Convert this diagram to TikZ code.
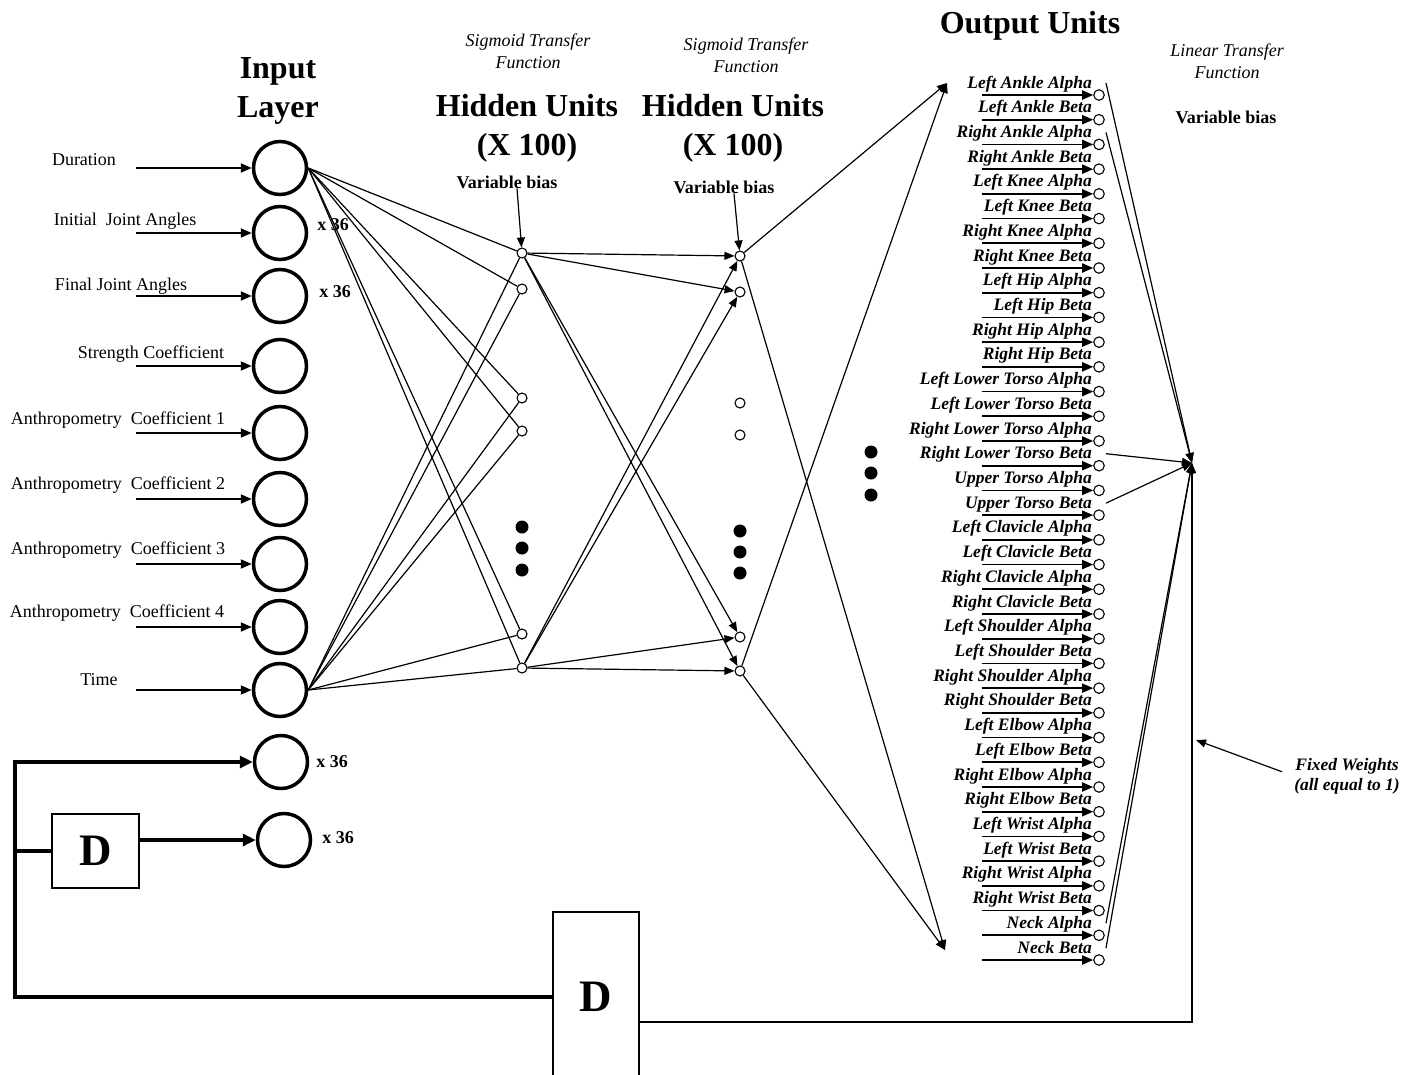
\documentclass[tikz,border=0pt]{standalone}
\usepackage{fontspec}
\setmainfont{Liberation Serif}
\usetikzlibrary{arrows.meta,calc}

\begin{document}
\begin{tikzpicture}[x=1pt,y=-1pt,
  >={Triangle[length=10pt,width=8pt]},
  inunit/.style={circle,draw,line width=3.5pt,minimum size=53pt,inner sep=0pt},
  hunit/.style={circle,draw,fill=white,line width=1.1pt,minimum size=10pt,inner sep=0pt},
  ounit/.style={circle,draw,fill=white,line width=1.1pt,minimum size=10.5pt,inner sep=0pt},
  bigdot/.style={circle,fill,minimum size=13pt,inner sep=0pt},
  link/.style={line width=1.2pt},
  inarrow/.style={line width=1.8pt,-{Triangle[length=11pt,width=9pt]}},
  outarrow/.style={line width=1.8pt,-{Triangle[length=11pt,width=9pt]}},
  fbline/.style={line width=4pt,-{Triangle[length=13pt,width=12pt]}},
  dbox/.style={draw,line width=1.3pt,inner sep=0pt,font=\fontsize{45}{50}\selectfont\bfseries},
  head/.style={font=\fontsize{32}{38.5}\selectfont\bfseries,align=center,inner sep=0pt},
  note/.style={font=\fontsize{18}{22}\selectfont\itshape,align=center,inner sep=0pt},
  bias/.style={font=\fontsize{18}{21}\selectfont\bfseries,inner sep=0pt},
  lbl/.style={font=\fontsize{18}{21}\selectfont,inner sep=0pt},
  mult/.style={font=\fontsize{18}{21}\selectfont\bfseries,inner sep=0pt},
  olbl/.style={font=\fontsize{17.5}{20}\selectfont\bfseries\itshape,inner sep=0pt},
  fixed/.style={font=\fontsize{17.5}{20}\selectfont\bfseries\itshape,align=center,inner sep=0pt}
]
\useasboundingbox (0,0) rectangle (1402,1074);
\clip (0,0) rectangle (1402,1074);

% ---- titles (base anchor = baseline of the last line) ----
\node[head,anchor=base] (hin)  at (278,117)  {Input\\Layer};
\node[head,anchor=base] (hh1)  at (527,155)  {Hidden Units\\(X 100)};
\node[head,anchor=base] (hh2)  at (733,155)  {Hidden Units\\(X 100)};
\node[head,anchor=base] (hout) at (1030,33)  {Output Units};
\node[note,anchor=base] (sig1) at (528,68)   {Sigmoid Transfer\\Function};
\node[note,anchor=base] (sig2) at (746,72)   {Sigmoid Transfer\\Function};
\node[note,anchor=base] (lin)  at (1227,78)  {Linear Transfer\\Function};
\node[bias,anchor=base] (vb3)  at (1226,123) {Variable bias};
\node[bias,anchor=base] (vb1)  at (507,188)  {Variable bias};
\node[bias,anchor=base] (vb2)  at (724,193)  {Variable bias};

% ---- input layer ----
\foreach \n/\y in {1/168,2/233,3/296,4/366,5/433,6/499,7/564,8/627,9/690} {
  \node[inunit] (in\n) at (280,\y) {};
  \coordinate (src\n) at (136,\y);
  \draw[inarrow] (src\n) -- (in\n);
}
\foreach \t/\x/\y in {Duration/84/165, Initial\ \ Joint Angles/125/225,
    Final Joint Angles/121/290, Strength Coefficient/151/358,
    Anthropometry\ \ Coefficient 1/118/424, Anthropometry\ \ Coefficient 2/118/489,
    Anthropometry\ \ Coefficient 3/118/554, Anthropometry\ \ Coefficient 4/117/617,
    Time/99/685}
  \node[lbl,anchor=base] at (\x,\y) {\t};

\node[inunit] (fb1) at (281,762) {};
\node[inunit] (fb2) at (284,840) {};

% ---- hidden layers ----
\foreach \n/\y in {a/253,b/289,c/398,d/431,e/634,f/668}
  \node[hunit] (h1\n) at (522,\y) {};
\foreach \n/\y in {a/256,b/292,c/403,d/435,e/637,f/671}
  \node[hunit] (h2\n) at (740,\y) {};
\foreach \y [count=\k] in {527,548,570} \node[bigdot] (d1\k) at (522,\y) {};
\foreach \y [count=\k] in {531,552,573} \node[bigdot] (d2\k) at (740,\y) {};
\foreach \y [count=\k] in {452,473,495} \node[bigdot] (d3\k) at (871,\y) {};

\foreach \h in {a,b,c,d,e,f} {
  \draw[link] (in1.east) -- (h1\h);
  \draw[link] (in9.east) -- (h1\h);
}
\foreach \s in {a,f}
  \foreach \t in {a,b,e,f}
    \draw[link,->] (h1\s) -- (h2\t);

\draw[link,->] ([xshift=10pt]vb1.south) -- (h1a);
\draw[link,->] ([xshift=10pt]vb2.south) -- (h2a);

% ---- hidden to output ----
\coordinate (otop) at (947,83);
\coordinate (obot) at (945,950);
\foreach \s in {a,f} {
  \draw[link,->] (h2\s) -- (otop);
  \draw[link,->] (h2\s) -- (obot);
}

% ---- output units ----
\foreach \lab [count=\i from 0] in {Left Ankle Alpha, Left Ankle Beta, Right Ankle Alpha,
    Right Ankle Beta, Left Knee Alpha, Left Knee Beta, Right Knee Alpha, Right Knee Beta,
    Left Hip Alpha, Left Hip Beta, Right Hip Alpha, Right Hip Beta,
    Left Lower Torso Alpha, Left Lower Torso Beta, Right Lower Torso Alpha,
    Right Lower Torso Beta, Upper Torso Alpha, Upper Torso Beta,
    Left Clavicle Alpha, Left Clavicle Beta, Right Clavicle Alpha, Right Clavicle Beta,
    Left Shoulder Alpha, Left Shoulder Beta, Right Shoulder Alpha, Right Shoulder Beta,
    Left Elbow Alpha, Left Elbow Beta, Right Elbow Alpha, Right Elbow Beta,
    Left Wrist Alpha, Left Wrist Beta, Right Wrist Alpha, Right Wrist Beta,
    Neck Alpha, Neck Beta} {
  \pgfmathsetmacro\b{88+24.714*\i}
  \node[olbl,anchor=base east] (ol\i) at (1092,\b) {\lab};
  \node[ounit] (oc\i) at (1099,\b+7) {};
  \coordinate (os\i) at (982,\b+7);
  \draw[outarrow] (os\i) -- (oc\i);
}

% summing point
\coordinate (conv) at (1192,463);
\foreach \i in {0,2,15,17,34,35}
  \draw[link,->] ($(oc\i)+(7,-12)$) -- (conv);

% ---- delay elements ----
\node[dbox,minimum width=87pt,minimum height=74pt] (D1) at (95.5,851) {D};
\node[dbox,minimum width=86pt,minimum height=170pt] (D2) at (596,997) {D};

\coordinate (fbl) at (15,762);
\draw[fbline] (D2.west) -| (fbl) -- (fb1);
\draw[line width=4pt] (fbl |- D1.west) -- (D1.west);
\draw[fbline] (D1.east |- fb2) -- (fb2);

\draw[link,->] ([yshift=-25pt]D2.east) -| (conv);

% multiplicity marks
\node[mult,anchor=base] (m1) at (333,230) {x 36};
\node[mult,anchor=base] (m2) at (335,297) {x 36};
\node[mult,anchor=base] (m3) at (332,767) {x 36};
\node[mult,anchor=base] (m4) at (338,843) {x 36};

% fixed weights note
\node[fixed,anchor=base] (fw) at (1347,790) {Fixed Weights\\(all equal to 1)};
\coordinate (fwtip) at (1196,740);
\draw[link,->] ([shift={(-12,-4)}]fw.west) -- (fwtip);
\end{tikzpicture}
\end{document}
